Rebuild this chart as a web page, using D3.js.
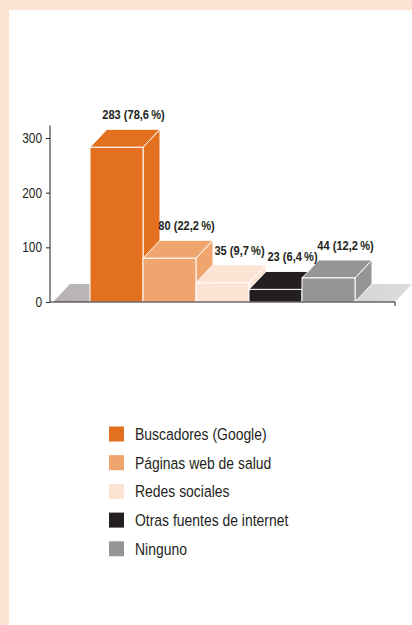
<!DOCTYPE html>
<html>
<head>
<meta charset="utf-8">
<script src="https://cdn.jsdelivr.net/npm/d3@7"></script>
<style>
  body { margin: 0; background: #fff; }
  svg text { font-family: "Liberation Sans", Arial, sans-serif; }
</style>
</head>
<body>
<script>
// data
var categories = ["Buscadores (Google)", "Páginas web de salud", "Redes sociales", "Otras fuentes de internet", "Ninguno"];
var values = [283, 80, 35, 23, 44];
var valueLabels = ["283 (78,6\u2009%)", "80 (22,2\u2009%)", "35 (9,7\u2009%)", "23 (6,4\u2009%)", "44 (12,2\u2009%)"];
var colors = ["#e3701f", "#f0a46e", "#fce3d4", "#231f20", "#959597"];
var yTicks = [0, 100, 200, 300];

var width = 412, height = 625;
var dx = 17, dy = -18; // depth of the 3d boxes
var narrow = 0.82; // no narrow font installed, so squeeze the text

var svg = d3.select("body").append("svg")
  .attr("width", width)
  .attr("height", height);

// peach frame
svg.append("rect").attr("x", 0).attr("y", 0).attr("width", width).attr("height", 10).attr("fill", "#fce3d3");
svg.append("rect").attr("x", 0).attr("y", 0).attr("width", 9).attr("height", height).attr("fill", "#fce3d3");

var y = d3.scaleLinear()
  .domain([0, 300])
  .range([302, 138]);

var x = d3.scaleBand()
  .domain(categories)
  .range([90, 355])
  .padding(0);

var axisLeft = 50, axisRight = 395;

// floor
var grad = svg.append("defs").append("linearGradient").attr("id", "floor")
  .attr("x1", "0%").attr("x2", "100%").attr("y1", "0%").attr("y2", "0%");
grad.append("stop").attr("offset", "0%").attr("stop-color", "#b7b2b2");
grad.append("stop").attr("offset", "100%").attr("stop-color", "#dcdcde");

svg.append("path")
  .attr("d", "M" + (axisLeft + 3) + "," + y(0) + "L" + (axisLeft + 3 + dx) + "," + (y(0) + dy) +
    "L" + (axisRight + dx) + "," + (y(0) + dy) + "L" + axisRight + "," + y(0) + "Z")
  .attr("fill", "url(#floor)");

// bars
var bars = svg.selectAll("g.bar")
  .data(values)
  .enter().append("g")
  .attr("class", "bar");

bars.each(function(d, i){
  var g = d3.select(this);
  var x0 = x(categories[i]), x1 = x0 + x.bandwidth();
  var yt = y(d), yb = y(0);
  // side
  g.append("path")
    .attr("d", "M" + x1 + "," + yb + "L" + (x1 + dx) + "," + (yb + dy) + "L" + (x1 + dx) + "," + (yt + dy) + "L" + x1 + "," + yt + "Z")
    .attr("fill", colors[i]).attr("stroke", "#fff").attr("stroke-width", 1);
  // top
  g.append("path")
    .attr("d", "M" + x0 + "," + yt + "L" + (x0 + dx) + "," + (yt + dy) + "L" + (x1 + dx) + "," + (yt + dy) + "L" + x1 + "," + yt + "Z")
    .attr("fill", colors[i]).attr("stroke", "#fff").attr("stroke-width", 1);
  // front
  g.append("rect")
    .attr("x", x0).attr("y", yt)
    .attr("width", x.bandwidth()).attr("height", yb - yt)
    .attr("fill", colors[i]).attr("stroke", "#fff").attr("stroke-width", 1);
});

// value labels
svg.selectAll("g.val")
  .data(values)
  .enter().append("g")
  .attr("class", "val")
  .attr("transform", function(d, i){
    var lx = x(categories[i]) + x.bandwidth() / 2 + dx;
    var ly = y(d) + dy - 10;
    return "translate(" + lx + "," + ly + ") scale(" + narrow + ",1)";
  })
  .append("text")
  .attr("text-anchor", "middle")
  .attr("font-size", 13.5)
  .attr("font-weight", "bold")
  .attr("fill", "#231f20")
  .text(function(d, i){ return valueLabels[i]; });

// axes
var yAxis = svg.append("g")
  .attr("transform", "translate(" + axisLeft + ",0)")
  .call(d3.axisLeft(y).tickValues(yTicks).tickSize(4).tickPadding(4));
yAxis.select(".domain").remove();
yAxis.selectAll("line").attr("stroke", "#231f20");
yAxis.selectAll(".tick text")
  .attr("x", null)
  .attr("font-size", 14.5)
  .attr("fill", "#231f20")
  .attr("transform", "translate(-8,0) scale(" + narrow + ",1)");

svg.append("line")
  .attr("x1", axisLeft).attr("x2", axisLeft)
  .attr("y1", y(323)).attr("y2", y(0))
  .attr("stroke", "#231f20").attr("stroke-width", 1);
svg.append("line")
  .attr("x1", axisLeft).attr("x2", axisRight)
  .attr("y1", y(0)).attr("y2", y(0))
  .attr("stroke", "#231f20").attr("stroke-width", 1.2);
svg.append("line")
  .attr("x1", axisRight).attr("x2", axisRight)
  .attr("y1", y(0)).attr("y2", y(0) + 4)
  .attr("stroke", "#231f20").attr("stroke-width", 1);

// legend
var legend = svg.selectAll("g.legend")
  .data(categories)
  .enter().append("g")
  .attr("class", "legend")
  .attr("transform", function(d, i){ return "translate(109," + (434 + i * 28.7) + ")"; });

legend.append("rect")
  .attr("x", 0).attr("y", -7.5)
  .attr("width", 15).attr("height", 15)
  .attr("fill", function(d, i){ return colors[i]; });

legend.append("text")
  .attr("transform", "translate(26,0) scale(" + narrow + ",1)")
  .attr("dy", "0.35em")
  .attr("font-size", 17)
  .attr("fill", "#231f20")
  .text(function(d){ return d; });
</script>
</body>
</html>
